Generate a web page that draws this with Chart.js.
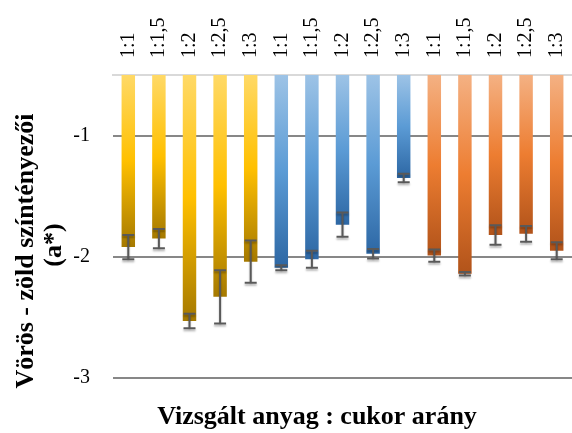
<!DOCTYPE html>
<html>
<head>
<meta charset="utf-8">
<script src="https://cdn.jsdelivr.net/npm/chart.js@4/dist/chart.umd.min.js"></script>
<style>
  html, body { margin: 0; padding: 0; background: #fff; }
  #wrap { width: 572px; height: 433px; }
</style>
</head>
<body>
<div id="wrap"><canvas id="chart"></canvas></div>
<script>
// ratios shown for each material
const ratios = ['1:1', '1:1,5', '1:2', '1:2,5', '1:3'];

// a* values, one array per material
const yellowValues = [-1.92, -1.85, -2.53, -2.33, -2.04];
const blueValues = [-2.09, -2.02, -1.735, -1.975, -1.35];
const orangeValues = [-1.99, -2.14, -1.82, -1.81, -1.95];

// error bar half lengths
const yellowErrors = [0.10, 0.08, 0.06, 0.22, 0.175];
const blueErrors = [0.02, 0.07, 0.10, 0.04, 0.035];
const orangeErrors = [0.05, 0.015, 0.08, 0.065, 0.07];

const yTicks = [-1, -2, -3];

const xTitle = 'Vizsgált anyag : cukor arány';
const yTitle = ['Vörös - zöld színtényezői', '(a*)'];

const labels = ratios.concat(ratios, ratios);
const values = yellowValues.concat(blueValues, orangeValues);
const errors = yellowErrors.concat(blueErrors, orangeErrors);

// light, base, dark stops per material
const palettes = [
  ['#ffd966', '#ffc000', '#a57900'],
  ['#9dc3e6', '#5b9bd5', '#2d67a4'],
  ['#f4b183', '#ed7d31', '#b1531a'],
];

const serif = '"Liberation Serif", "Times New Roman", serif';

function barGradient(context) {
  const chart = context.chart;
  const pal = palettes[Math.floor(context.dataIndex / ratios.length)];
  const y = chart.scales.y;
  if (!chart.chartArea || !y) {
    return pal[1];
  }
  const top = y.getPixelForValue(y.max);
  const bottom = y.getPixelForValue(context.raw);
  if (!isFinite(top) || !isFinite(bottom) || bottom <= top) {
    return pal[1];
  }
  const g = chart.ctx.createLinearGradient(0, top, 0, bottom);
  g.addColorStop(0, pal[0]);
  g.addColorStop(0.5, pal[1]);
  g.addColorStop(1, pal[2]);
  return g;
}

const errorBars = {
  id: 'errorBars',
  afterDatasetsDraw(chart) {
    const meta = chart.getDatasetMeta(0);
    const y = chart.scales.y;
    const ctx = chart.ctx;
    ctx.save();
    ctx.strokeStyle = '#595959';
    ctx.lineWidth = 2;
    ctx.shadowColor = 'rgba(0,0,0,0.3)';
    ctx.shadowOffsetY = 2;
    ctx.shadowBlur = 2;
    for (let i = 0; i < values.length; i++) {
      const bar = meta.data[i];
      const hi = y.getPixelForValue(values[i] + errors[i]);
      const lo = y.getPixelForValue(values[i] - errors[i]);
      ctx.beginPath();
      ctx.moveTo(bar.x, hi);
      ctx.lineTo(bar.x, lo);
      ctx.moveTo(bar.x - 6, hi);
      ctx.lineTo(bar.x + 6, hi);
      ctx.moveTo(bar.x - 6, lo);
      ctx.lineTo(bar.x + 6, lo);
      ctx.stroke();
    }
    ctx.restore();
  }
};

// axis titles, placed where the original chart has them
const axisTitles = {
  id: 'axisTitles',
  afterDraw(chart) {
    const ctx = chart.ctx;
    ctx.save();
    ctx.fillStyle = '#000';
    ctx.font = 'bold 26px ' + serif;
    ctx.textAlign = 'center';
    ctx.textBaseline = 'alphabetic';
    ctx.fillText(xTitle, 317, 424);
    const linePos = [[33, 251], [61, 245]];
    for (let i = 0; i < yTitle.length; i++) {
      ctx.save();
      ctx.translate(linePos[i][0], linePos[i][1]);
      ctx.rotate(-Math.PI / 2);
      ctx.fillText(yTitle[i], 0, 0);
      ctx.restore();
    }
    ctx.restore();
  }
};

new Chart(document.getElementById('chart'), {
  type: 'bar',
  data: {
    labels: labels,
    datasets: [{
      data: values,
      backgroundColor: barGradient,
      borderWidth: 0,
      categoryPercentage: 1,
      barPercentage: 0.44,
    }]
  },
  options: {
    responsive: true,
    maintainAspectRatio: false,
    devicePixelRatio: 1,
    animation: false,
    layout: {
      padding: { left: 0, top: 0, right: 0, bottom: 55 }
    },
    plugins: {
      legend: { display: false },
      tooltip: { enabled: false },
      title: { display: false }
    },
    scales: {
      x: {
        position: 'top',
        offset: true,
        afterFit(scale) {
          scale.height = 75;
          scale.paddingLeft = 0;
          scale.paddingRight = 0;
        },
        grid: { display: false, drawTicks: false },
        border: { display: true, color: '#d9d9d9', width: 2 },
        ticks: {
          color: '#000',
          font: { family: serif, size: 20 },
          minRotation: 90,
          maxRotation: 90,
          autoSkip: false,
          labelOffset: 24,
          padding: 17
        }
      },
      y: {
        min: -3,
        max: -0.5,
        afterFit(scale) {
          scale.width = 113;
        },
        afterBuildTicks(scale) {
          scale.ticks = yTicks.map(v => ({ value: v }));
        },
        grid: { color: '#878787', lineWidth: 2, drawTicks: false },
        border: { display: false },
        ticks: {
          color: '#000',
          font: { family: serif, size: 20 },
          padding: 23
        }
      }
    }
  },
  plugins: [errorBars, axisTitles]
});
</script>
</body>
</html>
